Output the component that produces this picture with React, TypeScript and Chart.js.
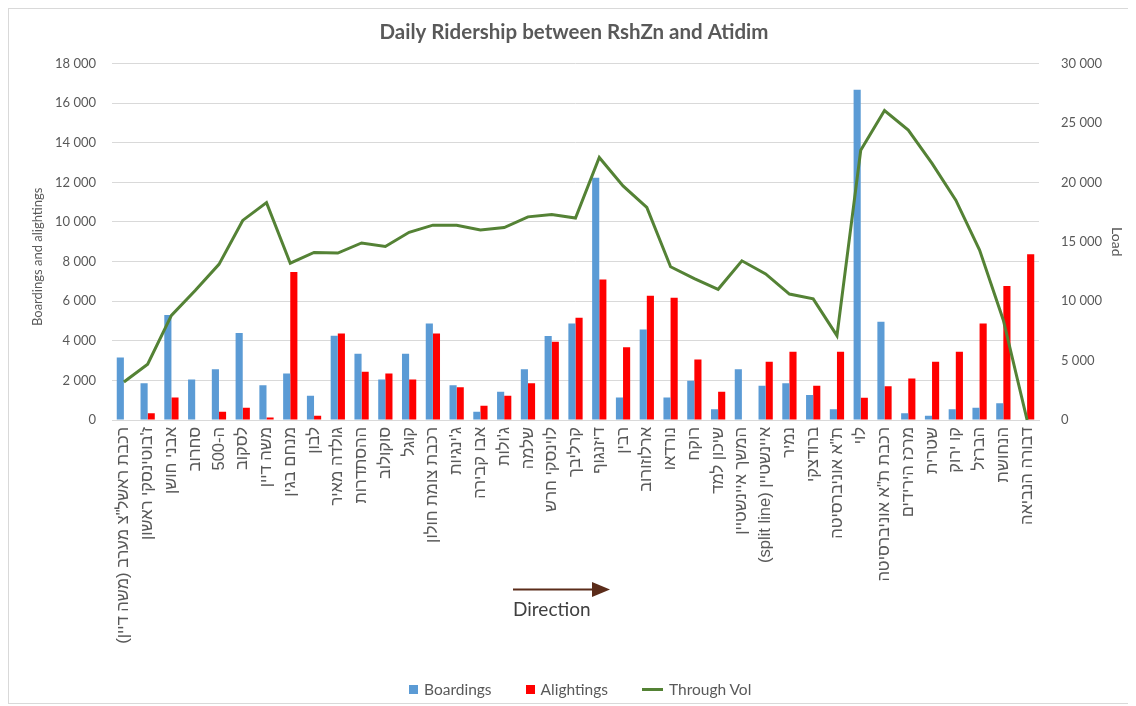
import React, { useEffect, useRef } from "react";
import { Chart, registerables } from "chart.js";

Chart.register(...registerables);

const titleText = "Daily Ridership between RshZn and Atidim";

const stations = [
  'רכבת ראשל"צ מערב (משה דיין)',
  "ז'בוטינסקי ראשון",
  "אבני חושן",
  "סחרוב",
  "ה-500",
  "לסקוב",
  "משה דיין",
  "מנחם בגין",
  "לבון",
  "גולדה מאיר",
  "ההסתדרות",
  "סוקולוב",
  "קוגל",
  "רכבת צומת חולון",
  "ג'ינגיות",
  "אבו קבירה",
  "ג'ולות",
  "שלמה",
  "לוינסקי חרש",
  "קרליבך",
  "דיזנגוף",
  "רבין",
  "ארלוזורוב",
  "נורדאו",
  "רוקח",
  "שיכון למד",
  "המשך איינשטיין",
  "איינשטיין (split line)",
  "נמיר",
  "ברודצקי",
  'ת"א אוניברסיטה',
  "לוי",
  'רכבת ת"א אוניברסיטה',
  "מרכז הירידים",
  "שטרית",
  "קו ירוק",
  "הברזל",
  "הנחושת",
  "דבורה הנביאה",
];

const boardings = [
  3160, 1850, 5300, 2050, 2560, 4400, 1750, 2350, 1230, 4250,
  3340, 2050, 3340, 4870, 1750, 420, 1430, 2560, 4240, 4870,
  12240, 1140, 4570, 1140, 1980, 540, 2560, 1730, 1850, 1260,
  540, 16680, 4960, 340, 220, 540, 620, 840, 0,
];

const alightings = [
  0, 340, 1140, 0, 420, 620, 120, 7480, 220, 4370,
  2440, 2350, 2050, 4370, 1650, 720, 1230, 1850, 3950, 5170,
  7090, 3670, 6270, 6170, 3060, 1430, 0, 2940, 3450, 1730,
  3450, 1130, 1710, 2100, 2940, 3450, 4870, 6770, 8370,
];

const throughVol = [
  3200, 4700, 8800, 10900, 13100, 16800, 18300, 13200, 14100, 14050,
  14900, 14600, 15800, 16400, 16400, 16000, 16200, 17100, 17300, 17000,
  22100, 19700, 17900, 12900, 11900, 11000, 13400, 12300, 10600, 10200,
  7100, 22700, 26050, 24400, 21600, 18500, 14300, 8400, 0,
];

const leftAxis = { min: 0, max: 18000, step: 2000 };
const rightAxis = { min: 0, max: 30000, step: 5000 };

const FONT = "Lato, 'Liberation Sans', sans-serif";
const HEB_FONT = "'Liberation Sans', Lato, sans-serif";
const TEXT = "#595959";
const BLUE = "#5b9bd5";
const RED = "#ff0000";
const GREEN = "#548235";

const fmt = (v: number | string) =>
  String(v).replace(/\B(?=(\d{3})+(?!\d))/g, "\u00A0");

// The canvas lays text out left-to-right; give each Hebrew label the visual
// order it has in a right-to-left line (Latin parenthetical on the left,
// trailing punctuation kept inside the Hebrew run with an RLM).
const rtlDisplay = (s: string) => {
  const m = s.match(/^(.*[\u0590-\u05FF].*?) (\([A-Za-z ]+\))$/);
  if (m) return m[2] + " " + m[1];
  return s + "\u200F";
};

export default function App() {
  const ref = useRef<HTMLCanvasElement | null>(null);

  useEffect(() => {
    if (!ref.current) return;
    Chart.defaults.font.family = FONT;
    Chart.defaults.color = TEXT;
    const chart = new Chart(ref.current, {
      type: "bar",
      data: {
        labels: stations,
        datasets: [
          {
            type: "line",
            label: "Through Vol",
            data: throughVol,
            borderColor: GREEN,
            backgroundColor: GREEN,
            borderWidth: 3,
            pointRadius: 0,
            tension: 0,
            yAxisID: "y1",
            order: 0,
          },
          {
            type: "bar",
            label: "Boardings",
            data: boardings,
            backgroundColor: BLUE,
            categoryPercentage: 0.6,
            barPercentage: 1,
            yAxisID: "y",
            order: 1,
          },
          {
            type: "bar",
            label: "Alightings",
            data: alightings,
            backgroundColor: RED,
            categoryPercentage: 0.6,
            barPercentage: 1,
            yAxisID: "y",
            order: 1,
          },
        ] as any,
      },
      options: {
        responsive: false,
        animation: false,
        devicePixelRatio: 1,
        layout: { padding: 0 },
        plugins: {
          legend: { display: false },
          tooltip: { enabled: false },
          title: {
            display: true,
            text: "\u00A0\u00A0" + titleText,
            color: TEXT,
            font: { family: FONT, size: 20.5, weight: "bold" },
            padding: { top: 11, bottom: 19 },
          },
        },
        scales: {
          x: {
            offset: true,
            grid: { display: false, drawTicks: false },
            border: { color: "#d9d9d9" },
            ticks: {
              autoSkip: false,
              minRotation: 90,
              maxRotation: 90,
              padding: 7,
              color: TEXT,
              font: { family: HEB_FONT, size: 16.5 },
              callback: (_v: any, i: number) => rtlDisplay(stations[i]),
            },
            afterFit: (s: any) => {
              s.height = 283;
            },
          },
          y: {
            position: "left",
            min: leftAxis.min,
            max: leftAxis.max,
            grid: { color: "#d9d9d9", drawTicks: false },
            border: { display: false },
            ticks: {
              stepSize: leftAxis.step,
              padding: 16,
              color: TEXT,
              font: { family: FONT, size: 13 },
              callback: (v: any) => fmt(v),
            },
            title: {
              display: true,
              text: "Boardings and alightings" + "\u00A0".repeat(9),
              color: TEXT,
              font: { family: FONT, size: 13 },
              padding: { top: 21, bottom: 0 },
            },
            afterFit: (s: any) => {
              s.width = 103;
            },
          },
          y1: {
            position: "right",
            min: rightAxis.min,
            max: rightAxis.max,
            grid: { display: false, drawTicks: false },
            border: { display: false },
            ticks: {
              stepSize: rightAxis.step,
              padding: 22,
              color: TEXT,
              font: { family: FONT, size: 13 },
              callback: (v: any) => fmt(v),
            },
            title: {
              display: true,
              text: "Load",
              color: TEXT,
              font: { family: FONT, size: 14 },
              padding: { top: 4, bottom: 0 },
            },
            afterFit: (s: any) => {
              s.width = 90;
            },
          },
        },
      } as any,
    });
    return () => chart.destroy();
  }, []);

  const legendItem = (marker: React.ReactNode, text: string, last = false) => (
    <div style={{ display: "flex", alignItems: "center", marginRight: last ? 0 : 34 }}>
      {marker}
      <span style={{ marginLeft: 6 }}>{text}</span>
    </div>
  );

  return (
    <div
      style={{
        position: "relative",
        width: 1120,
        height: 694,
        border: "1px solid #d9d9d9",
        fontFamily: FONT,
      }}
    >
      <canvas ref={ref} width={1120} height={694} style={{ display: "block" }} />
      <div
        style={{
          position: "absolute",
          left: 400,
          top: 671,
          display: "flex",
          fontSize: 15.5,
          color: TEXT,
          whiteSpace: "nowrap",
        }}
      >
        {legendItem(<span style={{ width: 9, height: 9, background: BLUE, display: "inline-block" }} />, "Boardings")}
        {legendItem(<span style={{ width: 9, height: 9, background: RED, display: "inline-block" }} />, "Alightings")}
        {legendItem(<span style={{ width: 21, height: 3, background: GREEN, display: "inline-block" }} />, "Through Vol", true)}
      </div>
      <svg
        style={{ position: "absolute", left: 503, top: 572 }}
        width={100}
        height={18}
      >
        <line x1={1} y1={8.5} x2={84} y2={8.5} stroke="#5b2c1a" strokeWidth={2} />
        <polygon points="80,1 98,8.5 80,16" fill="#5b2c1a" />
      </svg>
      <div
        style={{
          position: "absolute",
          left: 504,
          top: 588,
          fontSize: 19,
          color: "#404040",
          fontFamily: FONT,
        }}
      >
        Direction
      </div>
    </div>
  );
}
